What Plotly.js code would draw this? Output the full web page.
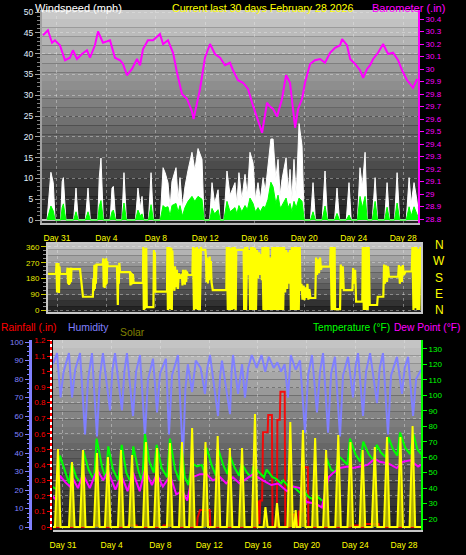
<!DOCTYPE html>
<html><head><meta charset="utf-8">
<script src="https://cdn.plot.ly/plotly-3.0.1.min.js"></script>
<style>html,body{margin:0;padding:0;background:#000;}#chart{width:466px;height:555px;}</style>
</head><body><div id="chart"></div>
<script>
// ---------- DATA (time t = days since Jan 31 00:00) ----------
const dayTicks = [0, 4, 8, 12, 16, 20, 24, 28];
const dayLabels = ['Day 31', 'Day 4', 'Day 8', 'Day 12', 'Day 16', 'Day 20', 'Day 24', 'Day 28'];
const baroTicks = [28.8, 28.9, 29.0, 29.1, 29.2, 29.3, 29.4, 29.5, 29.6, 29.7, 29.8, 29.9, 30.0, 30.1, 30.2, 30.3, 30.4];
const baroLabels = ['28.8', '28.9', '29', '29.1', '29.2', '29.3', '29.4', '29.5', '29.6', '29.7', '29.8', '29.9', '30', '30.1', '30.2', '30.3', '30.4'];
const dirTicks = [0, 90, 180, 270, 360];
const rainTicks = [0, 0.1, 0.2, 0.3, 0.4, 0.5, 0.6, 0.7, 0.8, 0.9, 1.0, 1.1, 1.2];
const rainLabels = ['0', '0.1', '0.2', '0.3', '0.4', '0.5', '0.6', '0.7', '0.8', '0.9', '1', '1.1', '1.2'];
const tempTicks = [20, 30, 40, 50, 60, 70, 80, 90, 100, 110, 120, 130];

// [t, gust mph, average mph]
const wind = [
[-0.8,0,0],[-0.6,9,2.5],[-0.49,11.5,3.4],[-0.3,9,2.2],[-0.15,0,0],
[0.3,0,0],[0.42,9.3,3],[0.52,10.2,3.9],[0.72,0,0],
[1.35,0,0],[1.54,7.7,2],[1.72,0,0],
[2.3,0,0],[2.51,7.7,2],[2.7,0,0],
[3.3,0,0],[3.42,10.2,3.2],[3.56,14.9,4.7],[3.75,0,0],
[4.3,0,0],[4.45,7.7,2],[4.56,8.1,2.4],[4.75,0,0],
[5.25,0,0],[5.42,11.4,4.1],[5.62,0,0],
[6.35,0,0],[6.55,7.7,2.4],[6.75,3,1],[6.88,5.7,1.5],[7.02,0,0],
[7.4,0,0],[7.61,11.4,3.7],[7.8,0,0],
[8.35,0,0],[8.58,12.6,3.5],[8.75,11.4,3],[8.98,9,3.2],[9.15,3,1],[9.3,9.3,3.5],[9.63,12.6,4],[9.8,5,2],[9.95,10.2,3.5],[10.15,3,1],[10.35,8,3],[10.6,12,4.5],[10.92,16.3,5.7],[11.15,12,4.5],[11.41,17.2,5.7],[11.73,14.6,5],[11.9,0,0],
[12.35,0,0],[12.54,9,2.8],[12.75,4,1.5],[13.03,7.3,2.5],[13.2,0,0],
[13.5,0,0],[13.75,11.8,4.5],[14.0,6,2],[14.4,9,3],[14.55,4,1.5],[14.72,11.4,3.5],[14.95,5,2],[15.21,11,3.5],[15.4,6,2.5],[15.61,16.3,5.3],[15.86,13.8,4],[16.05,5,2],[16.26,9,3],[16.45,5,2],[16.67,10.2,3.3],[16.85,7,3],[17.07,13.8,5],[17.3,19.5,9.1],[17.48,19.5,8],[17.7,10,4],[17.88,14.6,6],[18.05,6,3],[18.2,9.8,3.5],[18.53,15,5.3],[18.7,7,3],[18.85,12.2,4],[19.0,5,2],[19.17,14.6,4.5],[19.35,6,3],[19.58,23.2,5.3],[19.82,17.9,4.5],[20.0,0,0],
[20.5,0,0],[20.71,9,2],[20.9,0,0],
[21.45,0,0],[21.68,11.8,3.4],[21.88,0,0],
[22.45,0,0],[22.65,7.7,1.6],[22.85,0,0],
[23.4,0,0],[23.62,9,1.2],[23.8,0,0],
[24.3,0,0],[24.51,12.6,5.7],[24.7,8,3],[24.92,16.3,5.7],[25.1,0,0],
[25.5,0,0],[25.73,10.2,4.5],[25.93,0,0],
[26.5,0,0],[26.7,9,3.1],[26.9,0,0],
[27.3,0,0],[27.51,11.4,4.1],[27.72,0,0],
[28.25,0,0],[28.48,10.2,3.2],[28.65,4,1],[28.88,9,3.2],[29.1,5,1.5],[29.3,0,0]
];

// [t, inHg]
const baro = [
[-1.13,30.27],[-0.73,30.31],[-0.40,30.21],[-0.16,30.23],[0.24,30.19],[0.65,30.07],[1.05,30.09],[1.29,30.15],[1.62,30.08],[2.02,30.12],[2.43,30.15],[2.67,30.09],[3.07,30.19],[3.32,30.30],[3.72,30.21],[4.29,30.23],[4.69,30.09],[5.10,30.07],[5.34,30.04],[5.66,29.95],[6.07,30.00],[6.47,30.08],[6.72,30.03],[6.96,30.16],[7.36,30.23],[7.77,30.23],[8.33,30.28],[8.58,30.20],[8.98,30.23],[9.39,30.13],[9.71,29.97],[10.11,29.80],[10.52,29.76],[10.92,29.66],[11.05,29.60],[11.57,29.84],[11.97,30.09],[12.38,30.20],[12.78,30.12],[13.19,30.09],[13.59,30.03],[13.99,30.05],[14.24,29.99],[14.64,29.91],[15.05,29.89],[15.45,29.84],[15.78,29.73],[16.18,29.62],[16.59,29.49],[16.99,29.73],[17.23,29.70],[17.48,29.68],[17.80,29.62],[18.20,29.76],[18.53,29.95],[18.85,29.89],[19.26,29.53],[19.50,29.68],[19.82,29.76],[20.06,29.89],[20.47,30.04],[20.87,30.07],[21.28,30.08],[21.68,30.05],[22.09,30.13],[22.49,30.17],[22.90,30.19],[23.06,30.24],[23.46,30.19],[23.71,30.08],[24.11,30.04],[24.51,29.99],[24.76,29.93],[25.08,30.00],[25.32,30.03],[25.57,30.08],[25.97,30.13],[26.38,30.20],[26.78,30.12],[27.18,30.13],[27.59,30.07],[27.91,29.99],[28.32,29.91],[28.56,29.88],[28.80,29.85],[29.13,29.92]
];

// [t, degrees]
const windDir = [
[-1.2,206],[-0.08,206],[-0.04,268],[0.0,100],[0.04,265],[0.08,110],[0.12,268],[0.16,98],[0.2,250],[0.24,206],[0.81,206],
[0.85,242],[0.89,150],[0.93,240],[0.97,143],[1.01,238],[1.05,150],[1.09,242],[1.13,160],[1.17,236],[1.21,234],[1.86,234],
[1.95,160],[2.1,76],[2.9,76],[2.94,180],[2.98,110],[3.02,257],[3.06,120],[3.1,260],[3.14,150],[3.2,259],[3.7,259],
[3.74,295],[3.78,130],[3.82,290],[3.86,126],[3.9,285],[3.94,140],[3.98,295],[4.02,150],[4.06,280],[4.1,250],[4.85,250],
[4.88,170],[4.92,29],[4.96,230],[5.0,150],[5.04,270],[5.1,217],[5.9,217],
[5.94,141],[5.98,215],[6.02,145],[6.06,210],[6.1,150],[6.14,205],[6.2,155],[6.95,155],
[6.98,360],[7.02,0],[7.06,350],[7.1,5],[7.14,340],[7.18,10],[7.22,355],[7.26,17],[7.8,17],
[7.84,343],[7.88,120],[7.92,330],[7.96,100],[8.0,105],[8.9,105],
[8.93,360],[8.97,0],[9.01,350],[9.05,10],[9.09,360],[9.13,5],[9.17,330],[9.21,20],[9.25,355],[9.29,0],[9.33,340],[9.4,200],
[9.5,110],[9.55,250],[9.62,130],[9.7,230],[9.78,120],[9.85,210],[9.95,180],[10.1,206],
[10.15,140],[10.2,230],[10.25,150],[10.3,225],[10.35,145],[10.4,230],[10.45,160],[10.5,220],[10.6,200],[10.95,200],
[11.0,360],[11.08,0],[11.16,355],[11.24,5],[11.32,360],[11.4,0],[11.48,350],[11.56,0],[11.64,360],[11.7,343],[12.0,343],
[12.05,305],[12.1,160],[12.15,300],[12.2,152],[12.25,290],[12.3,170],[12.35,305],[12.4,180],[12.45,280],[12.5,160],[12.6,114],[13.7,114],
[13.74,360],[13.82,0],[13.9,360],[13.98,0],[14.06,355],[14.14,0],[14.22,360],[14.3,5],[14.38,360],[14.46,0],[14.5,343],[15.1,343],
[15.14,0],[15.22,360],[15.3,0],[15.38,360],[15.42,343],[15.5,200],[15.56,343],
[15.62,0],[15.7,360],[15.78,0],[15.86,360],[15.94,0],[16.02,355],[16.1,0],
[16.18,343],[16.26,180],[16.34,330],[16.42,200],[16.5,320],[16.58,170],
[16.62,360],[16.7,0],[16.78,360],[16.86,0],[16.94,360],[17.02,0],[17.1,360],[17.18,0],[17.26,300],[17.34,0],[17.42,360],[17.5,0],[17.58,360],[17.66,0],[17.74,360],[17.82,0],[17.9,360],[17.98,0],[18.06,360],[18.14,0],[18.22,360],[18.3,0],[18.38,360],
[18.46,100],[18.54,343],[18.62,120],[18.7,330],[18.78,150],[18.86,343],
[18.92,0],[19.0,360],[19.08,0],[19.16,360],[19.24,0],[19.32,360],[19.4,0],[19.48,360],[19.56,0],[19.64,360],[19.7,110],
[19.78,150],[19.86,60],[19.94,140],[20.02,57],[20.1,130],[20.18,70],[20.26,150],[20.34,60],[20.42,120],[20.5,69],[20.9,69],
[20.96,300],[21.04,200],[21.12,290],[21.2,210],[21.28,300],[21.36,230],[21.42,248],[22.1,248],
[22.14,360],[22.22,0],[22.3,360],[22.38,0],[22.46,360],[22.5,5],[22.9,5],
[22.96,260],[23.04,120],[23.12,250],[23.2,114],[23.9,114],
[23.96,240],[24.04,150],[24.12,230],[24.2,48],[24.7,48],
[24.74,360],[24.82,0],[24.9,360],[24.98,0],[25.06,360],[25.14,0],[25.22,360],[25.3,29],[25.9,29],
[25.95,76],[26.4,76],[26.46,260],[26.54,150],[26.62,255],[26.7,160],[26.78,250],[26.86,190],[27.6,190],
[27.66,257],[27.74,150],[27.82,250],[27.9,160],[27.98,257],[28.06,200],[28.2,220],[28.7,220],
[28.76,360],[28.84,0],[28.92,360],[29.0,10],[29.08,360],[29.16,0],[29.24,350],[29.32,0],[29.4,360],[29.48,200]
];

// [t, %]
const humidity = [
[-0.82,88],[-0.49,94],[-0.2,70],[0.05,84],[0.49,94],[0.74,70],[1.0,85],[1.40,94],[1.81,50],[2.06,80],[2.38,94],[2.79,49],[3.04,82],[3.28,94],[3.86,63],[4.06,85],[4.27,94],[4.84,63],[5.04,84],[5.25,94],[5.75,60],[6.0,84],[6.32,93],[6.73,49],[6.98,80],[7.39,91],[7.72,62],[7.97,83],[8.45,91],[8.70,50],[8.95,82],[9.44,93],[9.85,37],[10.05,75],[10.25,88],[10.6,73],[10.9,90],[11.3,86],[11.66,72],[11.85,86],[12.07,93],[12.73,60],[12.9,82],[13.05,90],[13.71,61],[13.85,85],[13.96,93],[14.37,72],[14.70,88],[14.94,70],[15.2,86],[15.5,93],[15.9,86],[16.3,93],[16.6,84],[16.9,92],[17.3,86],[17.6,89],[17.9,84],[18.2,88],[18.47,70],[18.7,93],[19.1,85],[19.46,90],[19.87,51],[20.12,82],[20.44,93],[20.85,62],[21.1,84],[21.35,94],[21.76,51],[22.01,83],[22.33,92],[22.74,49],[22.99,82],[23.40,92],[23.81,70],[24.0,86],[24.22,94],[24.63,60],[24.88,84],[25.21,94],[25.78,67],[26.0,86],[26.27,94],[26.68,50],[26.93,82],[27.42,92],[27.83,72],[28.05,86],[28.33,92],[28.74,60],[28.99,80],[29.2,83],[29.4,85]
];

// [t, °F]
const temperature = [
[-0.9,41],[-0.5,39],[-0.25,61],[0.16,51],[0.5,43],[0.71,56],[1.1,47],[1.5,43],[1.67,64],[2.1,52],[2.55,45],[2.76,72],[3.2,54],[3.5,46],[3.72,67],[4.1,52],[4.55,45],[4.82,68],[5.2,50],[5.55,44],[5.77,67],[6.2,51],[6.5,44],[6.73,75],[7.1,57],[7.45,50],[7.69,68],[8.1,53],[8.55,47],[8.78,72],[9.2,52],[9.55,45],[9.74,67],[10.0,47],[10.3,42],[10.6,56],[11.0,54],[11.4,55],[11.6,50],[11.8,66],[12.2,55],[12.55,48],[12.75,65],[13.2,54],[13.5,49],[13.7,61],[14.1,53],[14.45,48],[14.67,56],[15.1,50],[15.45,47],[15.63,54],[16.1,50],[16.5,47],[16.72,52],[17.2,47],[17.5,46],[17.9,43],[18.09,45],[18.5,41],[18.9,41],[19.3,38],[19.6,36],[19.87,37],[20.2,34],[20.5,33],[20.69,36],[21.1,33],[21.45,31],[21.65,59],[22.0,52],[22.4,50],[22.6,61],[23.0,58],[23.35,55],[23.56,72],[24.0,62],[24.4,57],[24.65,70],[25.1,62],[25.5,58],[25.75,68],[26.1,63],[26.5,60],[26.71,73],[27.1,65],[27.45,61],[27.67,76],[28.1,66],[28.5,62],[28.76,75],[29.1,65],[29.4,62]
];

// [t, °F]
const dewPoint = [
[-0.9,35],[-0.5,32],[-0.25,48],[0.16,44],[0.57,41],[0.82,46],[1.23,40],[1.64,49],[2.2,40],[2.8,52],[3.3,45],[3.7,51],[4.3,39],[4.8,48],[5.3,38],[5.75,50],[6.3,38],[6.73,52],[7.3,42],[7.7,49],[8.2,41],[8.8,48],[9.3,36],[9.8,38],[10.2,32],[10.6,47],[11.25,49],[11.8,49],[12.3,45],[12.9,47],[13.4,43],[13.95,47],[14.5,43],[15.6,49],[16.4,45],[17.1,42],[17.65,43],[18.4,38],[18.9,41],[19.45,40],[20.0,31],[20.7,30],[21.25,27.5],[21.8,47],[22.2,50],[22.7,53],[23.4,54],[23.8,53],[24.4,54],[25.0,55],[25.6,59],[26.0,57],[26.7,56],[27.4,53],[27.9,57],[28.5,58],[29.15,54],[29.4,55]
];

// [t, W/m²]
const solar = [
[-0.9,0],[-0.66,0],[-0.41,390],[-0.2,0],
[0.49,0],[0.74,325],[0.95,0],[1.39,0],[1.64,385],[1.85,0],[2.54,0],[2.79,370],[3.0,0],
[3.44,0],[3.69,350],[3.9,0],[4.51,0],[4.76,385],[4.97,0],[5.42,0],[5.67,360],[5.88,0],
[6.56,0],[6.81,425],[7.02,0],[7.47,0],[7.72,395],[7.93,0],[8.53,0],[8.78,420],[8.99,0],
[9.52,0],[9.77,425],[9.98,0],[10.35,0],[10.6,495],[10.81,0],[11.45,0],[11.7,425],[11.91,0],
[12.45,0],[12.7,455],[12.91,0],[13.45,0],[13.7,395],[13.91,0],[14.45,0],[14.7,395],[14.91,0],
[15.51,0],[15.76,565],[15.97,0],[16.46,0],[16.62,100],[16.8,0],[17.4,0],[17.57,120],[17.75,0],
[18.42,0],[18.66,525],[18.87,0],[19.0,0],[19.1,85],[19.2,0],[19.46,0],[19.7,485],[19.91,0],
[20.45,0],[20.7,445],[20.91,0],[21.35,0],[21.6,385],[21.81,0],[22.35,0],[22.6,460],[22.81,0],
[23.35,0],[23.6,425],[23.81,0],[24.35,0],[24.6,385],[24.81,0],[25.35,0],[25.6,400],[25.81,0],
[26.35,0],[26.6,450],[26.81,0],[27.45,0],[27.7,450],[27.91,0],[28.45,0],[28.7,505],[28.91,0],[29.4,0]
];

// [t, inches (daily accumulation)]
const rainfall = [
[-0.82,0],[2.5,0],[2.55,0.01],[2.95,0.01],[3.0,0],[5.3,0],[5.35,0.01],[6.05,0.01],[6.1,0],[8.2,0],[8.25,0.01],[8.95,0.01],[9.0,0],
[11.0,0],[11.05,0.06],[11.25,0.11],[12.05,0.11],[12.1,0],
[15.9,0],[15.95,0.12],[16.0,0.04],[16.05,0.17],[16.12,0.02],[16.2,0.17],[16.35,0.17],[16.42,0.61],[16.8,0.61],[16.85,0.72],[17.15,0.72],[17.2,0],
[17.55,0],[17.6,0.69],[17.8,0.69],[17.85,0.87],[18.2,0.87],[18.25,0],[18.6,0],[18.65,0.08],[19.0,0.08],[19.05,0],
[19.3,0],[19.35,0.1],[19.65,0.1],[19.7,0.385],[20.1,0.385],[20.15,0],
[23.6,0],[23.65,0.01],[24.4,0.01],[24.45,0],[24.7,0],[24.75,0.02],[25.9,0.02],[25.95,0],[29.4,0]
];

// ---------- LAYOUT HELPERS ----------
const W = 466, H = 555;
const FONT = '"Liberation Sans", Arial, sans-serif';
const px = v => v / W;
const py = v => 1 - v / H;
const col = (arr, i) => arr.map(r => r[i]);

function gradient(xref, yref, n, top, bot) {
  const out = [];
  for (let i = 0; i < n; i++) {
    const c = Math.round(top + (bot - top) * (i + 0.5) / n);
    out.push({type: 'rect', xref: xref, yref: yref, x0: 0, x1: 1,
      y0: 1 - (i + 1) / n, y1: 1 - i / n, line: {width: 0},
      fillcolor: 'rgb(' + c + ',' + c + ',' + c + ')', layer: 'below'});
  }
  return out;
}

const grid = {showgrid: true, gridcolor: 'rgba(235,235,235,0.4)', griddash: 'dot', gridwidth: 1};

const traces = [
  {x: col(wind, 0), y: col(wind, 1), xaxis: 'x', yaxis: 'y', mode: 'lines', fill: 'tozeroy',
   fillcolor: '#ffffff', line: {color: '#ffffff', width: 1}, hoverinfo: 'skip'},
  {x: col(wind, 0), y: col(wind, 2), xaxis: 'x', yaxis: 'y', mode: 'lines', fill: 'tozeroy',
   fillcolor: '#00ff00', line: {color: '#00ff00', width: 1}, hoverinfo: 'skip'},
  {x: col(baro, 0), y: col(baro, 1), xaxis: 'x', yaxis: 'y2', mode: 'lines',
   line: {color: '#ff00ff', width: 2}},
  {x: col(windDir, 0), y: col(windDir, 1), xaxis: 'x2', yaxis: 'y3', mode: 'lines',
   line: {color: '#ffff00', width: 2.2}},
  {x: col(humidity, 0), y: col(humidity, 1), xaxis: 'x3', yaxis: 'y4', mode: 'lines',
   line: {color: '#8080ff', width: 2}},
  {x: col(temperature, 0), y: col(temperature, 1), xaxis: 'x3', yaxis: 'y6', mode: 'lines',
   line: {color: '#00ff00', width: 2}},
  {x: col(dewPoint, 0), y: col(dewPoint, 1), xaxis: 'x3', yaxis: 'y6', mode: 'lines',
   line: {color: '#ff00ff', width: 2}},
  {x: col(solar, 0), y: col(solar, 1), xaxis: 'x3', yaxis: 'y7', mode: 'lines', fill: 'tozeroy',
   fillcolor: 'rgba(190,190,0,0.85)', line: {color: '#ffff00', width: 2}},
  {x: col(rainfall, 0), y: col(rainfall, 1), xaxis: 'x3', yaxis: 'y5', mode: 'lines',
   line: {color: 'rgba(255,0,0,0.9)', width: 2}}
];

const shapes = [].concat(
  gradient('x domain', 'y domain', 24, 205, 28),
  gradient('x2 domain', 'y3 domain', 12, 200, 28),
  gradient('x3 domain', 'y4 domain', 24, 200, 28),
  [{type: 'line', xref: 'paper', yref: 'paper', x0: px(51), x1: px(51), y0: py(530), y1: py(340),
    line: {color: '#ff0000', width: 2, dash: 'dot'}, layer: 'above'}]
);

function ann(text, x, y, color, size, xanchor) {
  return {text: text, x: px(x), y: py(y), xref: 'paper', yref: 'paper', xanchor: xanchor || 'left',
    yanchor: 'middle', showarrow: false, font: {family: FONT, size: size, color: color}, borderpad: 0};
}

const annotations = [
  ann('Windspeed (mph)', 34, 8, '#ffffff', 11),
  ann('Current last 30 days February 28 2026', 171, 8, '#ffff00', 10.6),
  ann('Barometer (.in)', 371, 8, '#ff00ff', 11),
  ann('N', 439, 245, '#ffff00', 12, 'center'),
  ann('W', 439, 261, '#ffff00', 12, 'center'),
  ann('S', 439, 278, '#ffff00', 12, 'center'),
  ann('E', 439, 294, '#ffff00', 12, 'center'),
  ann('N', 439, 310, '#ffff00', 12, 'center'),
  ann('Rainfall (.in)', 0, 327, '#ff0000', 10.4),
  ann('Humidity', 67, 327, '#8080ff', 10.4),
  ann('Solar', 119, 332, '#808000', 10.4),
  ann('Temperature (°F)', 312, 327, '#00ff00', 10.2),
  ann('Dew Point (°F)', 393, 327, '#ff00ff', 10.2)
];

const tickF = (c, s) => ({family: FONT, size: s, color: c});

const layout = {
  width: W, height: H, margin: {l: 0, r: 0, t: 0, b: 0},
  paper_bgcolor: '#000000', plot_bgcolor: 'rgba(0,0,0,0)', showlegend: false,
  font: {family: FONT},
  xaxis: Object.assign({domain: [px(42), px(418)], anchor: 'y', range: [-1.21, 29.2],
    tickmode: 'array', tickvals: dayTicks, ticktext: dayLabels, tickfont: tickF('#ffff00', 8.5),
    ticks: 'outside', ticklen: 6, tickcolor: 'rgba(0,0,0,0)', showline: true, linecolor: '#b8b8b8',
    linewidth: 2, zeroline: false}, grid),
  yaxis: Object.assign({domain: [py(223), py(10)], anchor: 'x', range: [-0.7, 50.5], dtick: 5, tick0: 0,
    tickfont: tickF('#e0f0ff', 8.5), ticks: 'outside', ticklen: 5, tickcolor: '#a0a0a0',
    minor: {dtick: 1, ticks: 'outside', ticklen: 3, tickcolor: '#808080', showgrid: false},
    showline: true, linecolor: '#a0a0a0', linewidth: 2, zeroline: true, zerolinecolor: '#c8c8c8',
    zerolinewidth: 2}, grid),
  yaxis2: {overlaying: 'y', side: 'right', anchor: 'x', range: [28.768, 30.472],
    tickmode: 'array', tickvals: baroTicks, ticktext: baroLabels, tickfont: tickF('#ff00ff', 8),
    ticks: 'outside', ticklen: 4, tickcolor: '#ff00ff', showline: true, linecolor: '#ff00ff',
    linewidth: 2, showgrid: false, zeroline: false},
  xaxis2: Object.assign({domain: [px(48), px(421)], anchor: 'y3', range: [-0.73, 29.45],
    tickmode: 'array', tickvals: dayTicks, showticklabels: false, ticks: '',
    showline: true, mirror: true, linecolor: '#c8c8c8', linewidth: 2, zeroline: false}, grid),
  yaxis3: Object.assign({domain: [py(312), py(244)], anchor: 'x2', range: [-11, 377],
    tickmode: 'array', tickvals: dirTicks, tickfont: tickF('#e8e800', 8), ticks: 'outside',
    ticklen: 5, tickcolor: '#c8c800',
    minor: {dtick: 22.5, ticks: 'outside', ticklen: 3, tickcolor: '#909090', showgrid: false},
    showline: true, mirror: true, linecolor: '#c8c8c8', linewidth: 2, zeroline: false}, grid),
  xaxis3: Object.assign({domain: [px(53), px(421)], anchor: 'y4', range: [-0.82, 29.39],
    tickmode: 'array', tickvals: dayTicks, ticktext: dayLabels, tickfont: tickF('#ffff00', 8.5),
    ticks: 'outside', ticklen: 6, tickcolor: 'rgba(0,0,0,0)', showline: true, linecolor: '#c8c8c8',
    linewidth: 2, zeroline: false}, grid),
  yaxis4: {domain: [py(530), py(340)], anchor: 'free', position: px(30), range: [-1.6, 101.1],
    dtick: 10, tick0: 0, tickfont: tickF('#8080ff', 8), ticks: 'outside', ticklen: 4,
    tickcolor: '#8080ff', minor: {dtick: 2.5, ticks: 'outside', ticklen: 2, tickcolor: '#8080ff', showgrid: false},
    showline: true, linecolor: '#8080ff', linewidth: 3, showgrid: false, zeroline: false},
  yaxis5: Object.assign({overlaying: 'y4', anchor: 'free', position: px(51), side: 'left',
    range: [-0.019, 1.203], tickmode: 'array', tickvals: rainTicks, ticktext: rainLabels,
    tickfont: tickF('#ff0000', 8), ticks: 'outside', ticklen: 3, tickcolor: '#ff0000',
    showline: true, linecolor: '#ffffff', linewidth: 2, zeroline: false}, grid),
  yaxis6: {overlaying: 'y4', side: 'right', anchor: 'x3', range: [12.9, 135.8],
    tickmode: 'array', tickvals: tempTicks, tickfont: tickF('#00ff00', 8), ticks: 'outside',
    ticklen: 4, tickcolor: '#00ff00', showline: true, linecolor: '#00ff00', linewidth: 2,
    showgrid: false, zeroline: false},
  yaxis7: {overlaying: 'y4', anchor: 'x3', range: [-15, 935], visible: false},
  shapes: shapes,
  annotations: annotations
};

Plotly.newPlot('chart', traces, layout, {staticPlot: true, displayModeBar: false});
</script>
</body></html>
